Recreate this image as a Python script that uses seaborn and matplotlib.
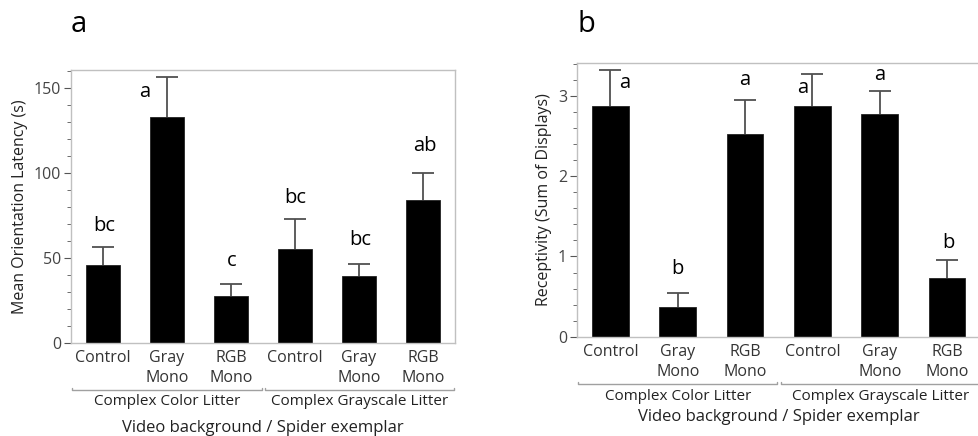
import matplotlib
matplotlib.use("Agg")
import matplotlib.pyplot as plt
import matplotlib.transforms as mtransforms
from matplotlib.ticker import MultipleLocator
import seaborn as sns
import pandas as pd
import numpy as np

sns.set_style("white")
plt.rcParams['font.family'] = ['Open Sans', 'DejaVu Sans']

# ---- data ----
conditions = ["Control", "Gray\nMono", "RGB\nMono", "Control", "Gray\nMono", "RGB\nMono"]
groups = ["Complex Color Litter", "Complex Grayscale Litter"]

latency_mean = [45.5, 132.9, 27.5, 55.3, 39.2, 83.9]
latency_upper = [56.3, 156.3, 34.3, 72.5, 46.1, 100.0]
latency_letters = ["bc", "a", "c", "bc", "bc", "ab"]
latency_letter_x = [0.03, 0.65, 2.02, 3.0, 4.02, 5.03]
latency_letter_y = [68.8, 147.6, 48.1, 85.1, 60.4, 115.7]

recept_mean = [2.87, 0.366, 2.53, 2.87, 2.78, 0.73]
recept_upper = [3.33, 0.55, 2.95, 3.28, 3.06, 0.96]
recept_letters = ["a", "b", "a", "a", "a", "b"]
recept_letter_x = [0.22, 1.0, 2.0, 2.85, 4.0, 5.02]
recept_letter_y = [3.16, 0.84, 3.2, 3.10, 3.26, 1.17]

W, H = 979, 436
fig = plt.figure(figsize=(W / 100, H / 100), dpi=100)

frame_col = "#c0c0c0"
tick_col = "#555555"


def panel(rect, means, uppers, letters, lx, ly, ylim, major, minor, ylabel,
          width, bracket_y, group_y, title_y, panel_label, plx, ply, hide_right=False):
    ax = fig.add_axes(rect)
    df = pd.DataFrame({"pos": list(range(len(means))), "val": means})
    pos = np.arange(len(means))
    err_lo = np.zeros(len(means))
    err_hi = np.array(uppers) - np.array(means)
    _, caps, _ = ax.errorbar(pos, means, yerr=[err_lo, err_hi], fmt="none",
                             ecolor="#505050", elinewidth=1.3, capsize=8,
                             capthick=1.3, zorder=1)
    caps[0].remove()
    sns.barplot(data=df, x="pos", y="val", color="black", width=width,
                errorbar=None, saturation=1, ax=ax, zorder=2,
                edgecolor="#222222", linewidth=0.6)
    ax.set_xlim(-0.5, len(means) - 0.5)
    ax.set_ylim(*ylim)
    ax.yaxis.set_major_locator(MultipleLocator(major))
    ax.yaxis.set_minor_locator(MultipleLocator(minor))
    ax.set_xticks(pos)
    ax.set_xticklabels(conditions, fontsize=11.5, color="#333333", linespacing=1.4)
    ax.tick_params(axis="x", length=0, pad=5)
    ax.tick_params(axis="y", which="major", length=5, width=0.8, color=tick_col,
                   labelsize=11.5, labelcolor="#444444", pad=2, left=True)
    ax.tick_params(axis="y", which="minor", length=3, width=0.6, color=tick_col, left=True)
    for s in ax.spines.values():
        s.set_color(frame_col)
        s.set_linewidth(1.0)
    if hide_right:
        ax.spines["right"].set_visible(False)
    ax.set_xlabel("")
    ax.set_ylabel(ylabel, fontsize=11.5, color="#222222", labelpad=4)
    for t, x, y in zip(letters, lx, ly):
        ax.text(x, y, t, ha="center", va="center", fontsize=14.5, color="black")
    trans = mtransforms.blended_transform_factory(ax.transData, ax.transAxes)
    spans = [(-0.475, 2.48), (2.535, 5.48)]
    for (a, b), g in zip(spans, groups):
        ax.plot([a, a, b, b], [bracket_y + 0.008, bracket_y, bracket_y, bracket_y + 0.008],
                transform=trans, color="#a0a0a0", lw=1.0, clip_on=False)
        ax.text((a + b) / 2, group_y, g, transform=trans, ha="center", va="center",
                fontsize=11, color="#222222")
    ax.text(0.5, title_y, "Video background / Spider exemplar", transform=ax.transAxes,
            ha="center", va="center", fontsize=12, color="#222222")
    fig.text(plx / W, 1 - ply / H, panel_label, ha="center", va="center",
             fontsize=21, color="black")
    return ax


panel([70.7 / W, (H - 342.7) / H, 384.3 / W, 272.7 / H],
      latency_mean, latency_upper, latency_letters, latency_letter_x, latency_letter_y,
      (0, 160.4), 50, 10, "Mean Orientation Latency (s)", 0.53,
      -0.173, -0.214, -0.313, "a", 79, 25)

panel([576.7 / W, (H - 336.7) / H, 404 / W, 274 / H],
      recept_mean, recept_upper, recept_letters, recept_letter_x, recept_letter_y,
      (0, 3.416), 1, 0.2, "Receptivity (Sum of Displays)", 0.545,
      -0.173, -0.219, -0.292, "b", 586, 25, hide_right=True)

fig.savefig("out.png", dpi=100)
